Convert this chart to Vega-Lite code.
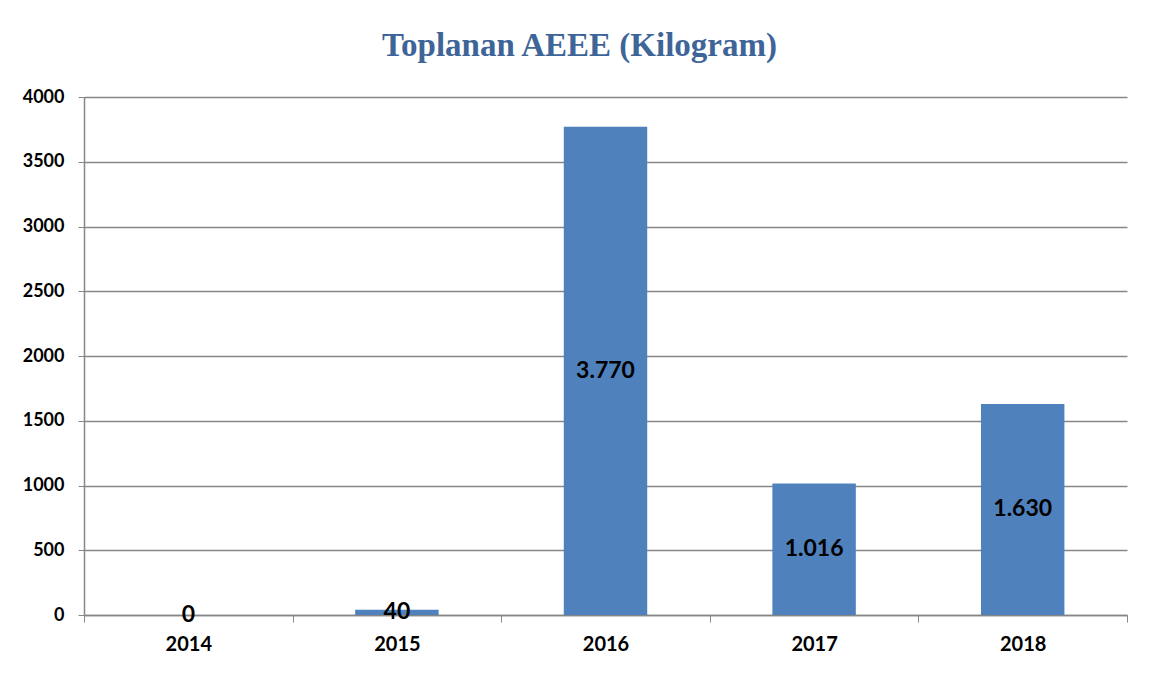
{
  "$schema": "https://vega.github.io/schema/vega-lite/v6.json",
  "width": 1043,
  "height": 518,
  "autosize": {"type": "none"},
  "padding": {"left": 84, "top": 97, "right": 32, "bottom": 58},
  "background": "white",
  "title": {
    "text": "Toplanan AEEE (Kilogram)",
    "font": "Liberation Serif",
    "fontSize": 33,
    "fontWeight": "bold",
    "color": "#3E6598",
    "anchor": "middle",
    "frame": "group",
    "dx": -26,
    "dy": 34,
    "baseline": "alphabetic",
    "offset": 33
  },
  "data": {
    "values": [
      {"year": "2014", "value": 0, "label": "0"},
      {"year": "2015", "value": 40, "label": "40"},
      {"year": "2016", "value": 3770, "label": "3.770"},
      {"year": "2017", "value": 1016, "label": "1.016"},
      {"year": "2018", "value": 1630, "label": "1.630"}
    ]
  },
  "config": {
    "view": {"stroke": null},
    "axis": {
      "labelFont": "Lato",
      "labelFontWeight": "bold",
      "labelColor": "black",
      "domainColor": "#868686",
      "tickColor": "#868686",
      "gridColor": "#868686",
      "title": null
    }
  },
  "encoding": {
    "x": {
      "field": "year",
      "type": "nominal",
      "scale": {"paddingInner": 0, "paddingOuter": 0},
      "axis": {
        "labelAngle": 0,
        "labelFontSize": 20,
        "tickBand": "extent",
        "tickSize": 7,
        "labelPadding": 12,
        "domainWidth": 1.5,
        "grid": false
      }
    }
  },
  "layer": [
    {
      "mark": {"type": "bar", "color": "#4F81BD", "width": {"band": 0.4}},
      "encoding": {
        "y": {
          "field": "value",
          "type": "quantitative",
          "scale": {"domain": [0, 4000]},
          "axis": {
            "values": [0, 500, 1000, 1500, 2000, 2500, 3000, 3500, 4000],
            "format": "d",
            "labelFontSize": 18,
            "tickSize": 6,
            "labelPadding": 14,
            "domainWidth": 1.5,
            "grid": true,
            "gridWidth": 1.5
          }
        }
      }
    },
    {
      "transform": [{"calculate": "datum.value / 2", "as": "mid"}],
      "mark": {"type": "text", "font": "Lato", "fontWeight": "bold", "fontSize": 23, "color": "black", "baseline": "middle", "align": "center"},
      "encoding": {
        "y": {"field": "mid", "type": "quantitative", "scale": {"domain": [0, 4000]}},
        "text": {"field": "label"}
      }
    }
  ]
}
